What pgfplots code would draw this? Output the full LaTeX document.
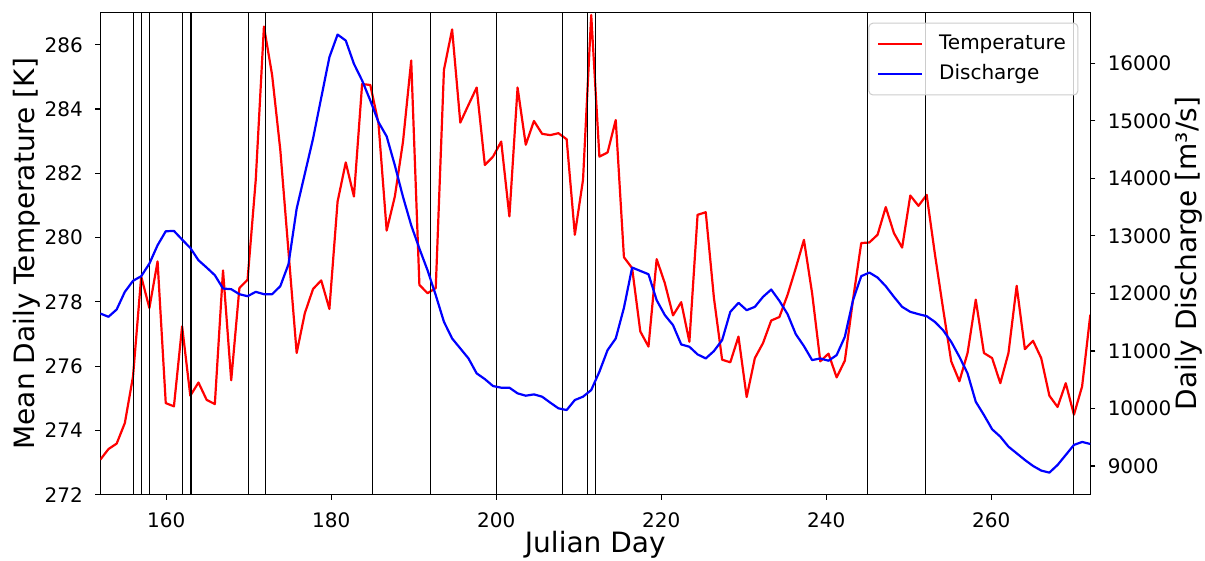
\documentclass[border=0pt]{standalone}
\usepackage{fontspec}
\setmainfont{DejaVu Sans}
\usepackage{pgfplots}
\pgfplotsset{compat=1.18}
\usepackage{pgfplotstable}

% daily values, 122 days plotted evenly between day 152 and day 272
\pgfplotstableread{
T Q
273.09 11650
273.42 11593
273.59 11720
274.23 12027
275.68 12218
278.79 12299
277.81 12518
279.26 12837
274.85 13080
274.75 13086
277.24 12935
275.08 12790
275.49 12576
274.95 12449
274.82 12316
278.98 12084
275.56 12073
278.43 11986
278.69 11951
281.80 12027
286.57 11986
285.06 11986
282.73 12125
279.57 12507
276.41 13473
277.65 14081
278.40 14689
278.67 15400
277.78 16106
281.12 16500
282.34 16396
281.28 15991
284.78 15701
284.75 15354
283.56 14978
280.22 14729
281.28 14226
282.99 13676
285.51 13184
278.53 12779
278.27 12400
278.43 11969
285.22 11506
286.48 11216
283.58 11043
284.13 10869
284.67 10609
282.26 10510
282.52 10389
282.99 10360
280.66 10360
284.67 10262
282.89 10221
283.63 10244
283.23 10204
283.19 10100
283.25 10001
283.06 9972
280.09 10146
281.80 10204
286.93 10319
282.52 10638
282.65 11014
283.66 11216
279.39 11749
279.05 12449
277.08 12391
276.61 12333
279.33 11882
278.58 11622
277.58 11448
277.99 11112
276.76 11072
280.71 10939
280.79 10869
278.12 10997
276.20 11187
276.12 11679
276.92 11836
275.04 11708
276.25 11766
276.72 11940
277.42 12067
277.53 11870
278.22 11639
279.05 11292
279.93 11083
278.27 10840
276.15 10869
276.39 10829
275.65 10927
276.17 11245
278.07 11882
279.83 12299
279.85 12362
280.09 12275
280.95 12125
280.14 11940
279.69 11766
281.31 11679
280.99 11639
281.33 11604
279.50 11505
277.80 11361
276.15 11158
275.53 10898
276.41 10609
278.07 10116
276.41 9885
276.25 9637
275.47 9509
276.41 9335
278.50 9220
276.53 9104
276.79 9000
276.25 8919
275.08 8884
274.73 9017
275.47 9191
274.49 9365
275.37 9417
277.60 9382
}\data

\pgfplotsset{
  base/.style={
    width=495pt, height=241pt, scale only axis,
    xmin=152, xmax=272,
    tick align=outside,
    major tick length=2.5pt,
    every tick/.style={black, line width=0.6pt},
    axis line style={line width=0.6pt},
    tick label style={font=\fontsize{10}{12}\selectfont},
    label style={font=\fontsize{14}{17}\selectfont},
    /pgf/number format/assume math mode=true,
    /pgf/number format/set thousands separator={},
    xticklabel shift=2.7pt, yticklabel shift=2.7pt,
  },
  series/.style={line width=1.1pt, line join=round},
}

\begin{document}
\begin{tikzpicture}
\useasboundingbox (-50.15pt,-33pt) rectangle (552.35pt,247.35pt);
\begin{axis}[base,
  ymin=272, ymax=287, ytick={272,274,...,286},
  xtick={160,180,...,260},
  xtick pos=bottom, ytick pos=left,
  xlabel={Julian Day},
  ylabel={Mean Daily Temperature [K]},
  xlabel style={at={(axis description cs:0.5,-0.1037)}, anchor=center},
  ylabel style={at={(axis description cs:-0.0739,0.5)}, anchor=center},
]
\addplot[red, series] table[x expr={152+\coordindex*120/121}, y=T] {\data};
\pgfplotsinvokeforeach{156,157,158,162,163,170,172,185,192,200,208,211,212,245,252,270}{
  \addplot[black, line width=0.55pt] coordinates {(#1,270) (#1,290)};
}
\end{axis}
\begin{axis}[base,
  ymin=8500, ymax=16880, ytick={9000,10000,...,16000},
  scaled y ticks=false,
  axis x line=none, axis y line*=right,
  ylabel={Daily Discharge [m³/s]},
  ylabel style={at={(axis description cs:1.099,0.5)}, anchor=center},
  legend cell align=left,
  legend image code/.code={\draw[#1] (0pt,0pt) -- (22pt,0pt);},
  legend style={at={(1,1)}, anchor=north east, xshift=-6pt, yshift=-5pt,
    draw=black!20, line width=0.5pt, rounded corners=2pt,
    fill=white, fill opacity=0.8, text opacity=1,
    font=\fontsize{10}{12}\selectfont, inner xsep=4pt, inner ysep=4pt,
    row sep=2pt,
    /tikz/every odd column/.append style={column sep=6pt}},
]
\addlegendimage{red, series}
\addplot[blue, series] table[x expr={152+\coordindex*120/121}, y=Q] {\data};
\legend{Temperature, Discharge}
\end{axis}
\end{tikzpicture}
\end{document}
